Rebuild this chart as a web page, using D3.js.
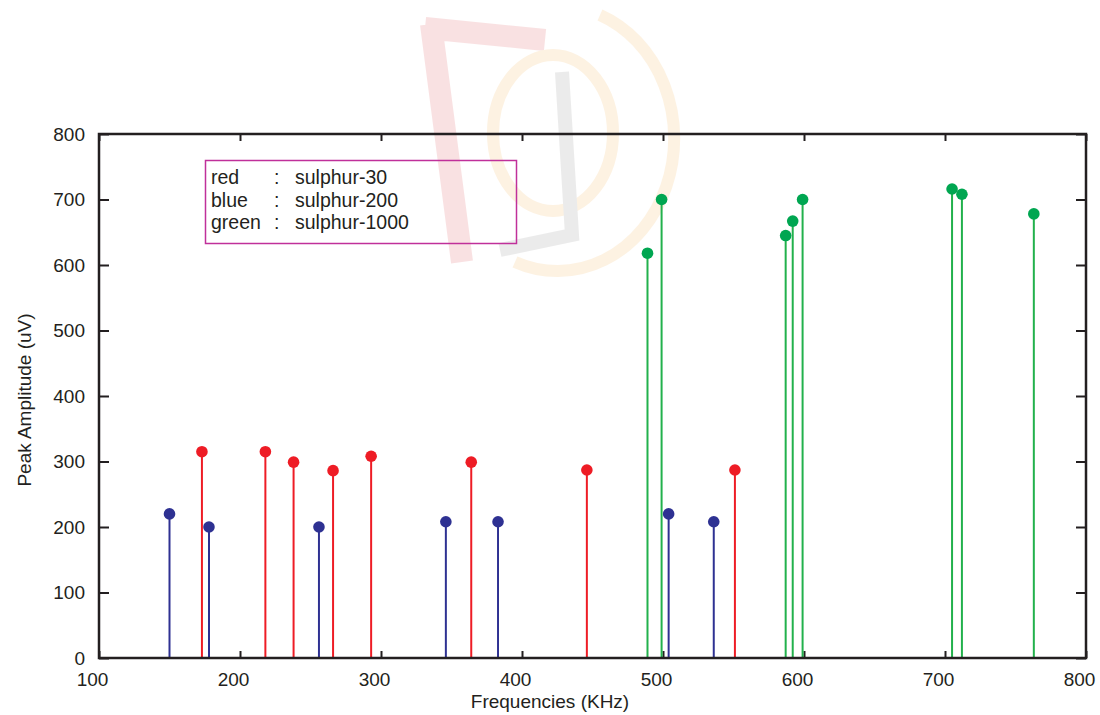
<!DOCTYPE html>
<html>
	<head>
		<meta charset="utf-8">
		<title></title>
		<script src="https://d3js.org/d3.v7.min.js"></script>
		<style>
			body { margin: 0; background: #fff; }
			text { font-family: "Liberation Sans", Arial, sans-serif; fill: #231f20; }
		</style>
	</head>
	<body>

		<div class="main_div"></div>
		<script>

			// Dados (frequencia em KHz, amplitude em uV)
			var redFreq   = [173, 218, 238, 266, 293, 364, 446, 551];
			var redAmp    = [315, 315, 299, 286, 308, 299, 287, 287];
			var blueFreq  = [150, 178, 256, 346, 383, 504, 536];
			var blueAmp   = [220, 200, 200, 208, 208, 220, 208];
			var greenFreq = [489, 499, 587, 592, 599, 705, 712, 763];
			var greenAmp  = [618, 700, 645, 667, 700, 716, 708, 678];

			var xTicks = [100, 200, 300, 400, 500, 600, 700, 800];
			var yTicks = [0, 100, 200, 300, 400, 500, 600, 700, 800];
			var legendLines = [["red", "sulphur-30"], ["blue", "sulphur-200"], ["green", "sulphur-1000"]];

			var W = 1100, H = 715;
			var pLeft = 99, pRight = 1086, pTop = 134, pBottom = 658;

			var svg = d3.select(".main_div").append("svg")
				.attr("width", W).attr("height", H);

			// marca d'agua (logo apagado ao fundo)
			var wm = svg.append("g").attr("opacity", 0.4);
			wm.append("path")
				.attr("d", "M425,28 L545,40 M431,24 L462,262")
				.attr("stroke", "#f2b6b8").attr("stroke-width", 22).attr("fill", "none");
			wm.append("ellipse")
				.attr("cx", 553).attr("cy", 133).attr("rx", 60).attr("ry", 78)
				.attr("stroke", "#fbe0b8").attr("stroke-width", 12).attr("fill", "none");
			wm.append("path")
				.attr("d", "M600,15 A110,125 0 0 1 515,262")
				.attr("stroke", "#fbe0b8").attr("stroke-width", 12).attr("fill", "none");
			wm.append("path")
				.attr("d", "M562,72 L572,235 L500,250")
				.attr("stroke", "#cfcfcf").attr("stroke-width", 14).attr("fill", "none");

			var x = d3.scaleLinear().domain([100, 800]).range([pLeft, pRight]);
			var y = d3.scaleLinear().domain([0, 800]).range([pBottom, pTop]);

			// Eixos com ticks para dentro
			var xAxisG = svg.append("g").attr("transform", "translate(0," + pBottom + ")")
				.call(d3.axisBottom(x).tickValues(xTicks).tickSize(-7).tickPadding(14.5))
				.call(function(g){ g.select(".domain").remove(); });
			xAxisG.selectAll("text").attr("dx", -7);
			svg.append("g").attr("transform", "translate(0," + pTop + ")")
				.call(d3.axisTop(x).tickValues(xTicks).tickSize(-7).tickFormat(""))
				.call(function(g){ g.select(".domain").remove(); });
			svg.append("g").attr("transform", "translate(" + pLeft + ",0)")
				.call(d3.axisLeft(y).tickValues(yTicks).tickSize(-10).tickPadding(14))
				.call(function(g){ g.select(".domain").remove(); });
			svg.append("g").attr("transform", "translate(" + pRight + ",0)")
				.call(d3.axisRight(y).tickValues(yTicks).tickSize(-10).tickFormat(""))
				.call(function(g){ g.select(".domain").remove(); });

			svg.selectAll(".tick line").attr("stroke", "#231f20").attr("stroke-width", 2);
			svg.selectAll(".tick text").style("font-size", "19px").attr("fill", "#231f20")
				.style("font-family", "'Liberation Sans', Arial, sans-serif");

			// Stems
			function stems(freqs, amps, lineColor, dotColor) {
				var data = freqs.map(function(f, i){ return [f, amps[i]]; });
				var g = svg.append("g");
				g.selectAll("line").data(data).enter().append("line")
					.attr("x1", function(d){ return x(d[0]); })
					.attr("x2", function(d){ return x(d[0]); })
					.attr("y1", y(0))
					.attr("y2", function(d){ return y(d[1]); })
					.attr("stroke", lineColor).attr("stroke-width", 2);
				g.selectAll("circle").data(data).enter().append("circle")
					.attr("cx", function(d){ return x(d[0]); })
					.attr("cy", function(d){ return y(d[1]); })
					.attr("r", 5.8)
					.attr("fill", dotColor);
			}
			stems(blueFreq, blueAmp, "#2e3192", "#2e3192");
			stems(redFreq, redAmp, "#ee1c25", "#ee1c25");
			stems(greenFreq, greenAmp, "#22b14c", "#00a651");

			// Moldura
			svg.append("rect")
				.attr("x", pLeft).attr("y", pTop)
				.attr("width", pRight - pLeft).attr("height", pBottom - pTop)
				.attr("fill", "none").attr("stroke", "#231f20").attr("stroke-width", 2.5);

			// Legenda
			svg.append("rect")
				.attr("x", 205.5).attr("y", 160.5).attr("width", 311).attr("height", 83)
				.attr("fill", "none").attr("stroke", "#c0309a").attr("stroke-width", 1.5);
			var leg = svg.append("g").style("font-size", "19.5px");
			legendLines.forEach(function(l, i){
				var yy = 184 + i * 22.5;
				leg.append("text").attr("x", 211).attr("y", yy).text(l[0]);
				leg.append("text").attr("x", 274).attr("y", yy).text(":");
				leg.append("text").attr("x", 295).attr("y", yy).text(l[1]);
			});

			// Titulos dos eixos
			svg.append("text")
				.attr("x", 550).attr("y", 708)
				.attr("text-anchor", "middle").style("font-size", "19px")
				.text("Frequencies (KHz)");
			svg.append("text")
				.attr("transform", "translate(31,400) rotate(-90)")
				.attr("text-anchor", "middle").style("font-size", "19px")
				.text("Peak Amplitude (uV)");

		</script>
	</body>
</html>
